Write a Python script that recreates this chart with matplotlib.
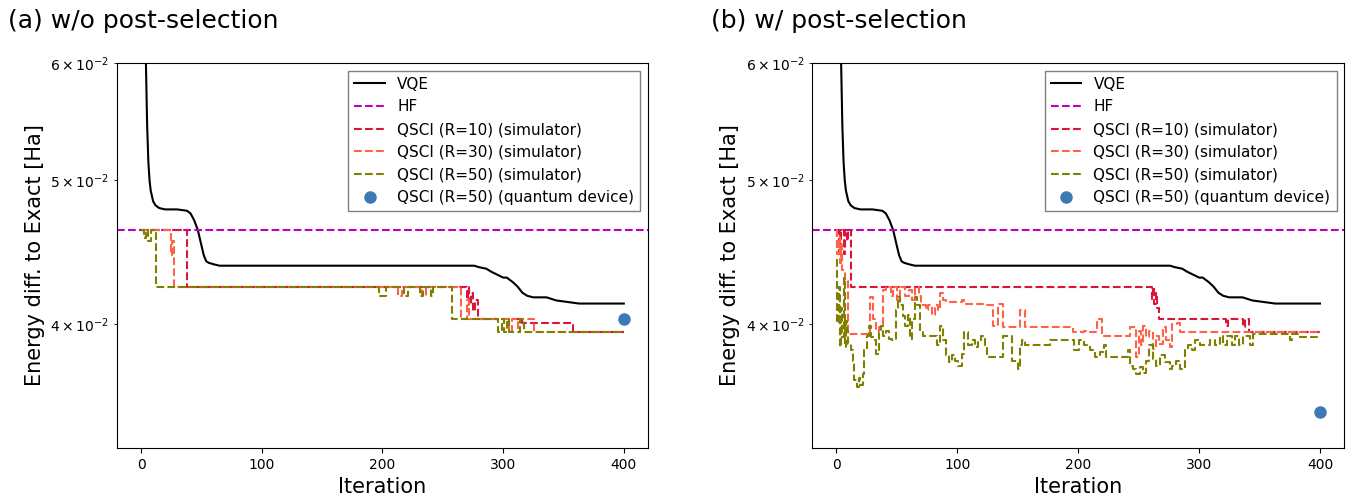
import matplotlib
matplotlib.use("Agg")
from matplotlib import pyplot as plt

# VQE energy difference (shared by both panels)
vqe_iter = [0, 1, 2, 3, 4, 5, 6, 7, 8, 10, 12, 15, 20, 30, 38, 41, 44, 47, 50, 52, 54, 56, 60, 65,
            80, 150, 250, 276, 280, 286, 290, 295, 300, 303, 308, 312, 316, 320, 325, 336, 344, 363, 380, 400]
vqe_val = [0.12, 0.09, 0.075, 0.065, 0.060, 0.0545, 0.0515, 0.0500, 0.0492, 0.0484, 0.0481, 0.0479,
           0.0478, 0.0478, 0.0477, 0.0475, 0.0470, 0.0463, 0.0452, 0.0445, 0.0441, 0.0440, 0.0439, 0.0438,
           0.0438, 0.0438, 0.0438, 0.0438, 0.0437, 0.0436, 0.0434, 0.0432, 0.0430, 0.0430, 0.0427, 0.0424,
           0.0420, 0.0418, 0.0417, 0.0417, 0.0415, 0.0413, 0.0413, 0.0413]

hf_val = 0.0463

# (a) w/o post-selection
a_r10_iter = [0, 38, 270, 271, 272, 273, 275, 277, 279, 316, 358, 400]
a_r10_val = [0.0463, 0.0424, 0.0416, 0.0424, 0.0412, 0.0420, 0.0408, 0.0415, 0.0403, 0.0401, 0.0395, 0.0395]

a_r30_iter = [0, 25, 26, 27, 213, 216, 233, 236, 265, 270, 272, 305, 307, 312, 314, 326, 400]
a_r30_val = [0.0463, 0.0445, 0.0455, 0.0424, 0.0418, 0.0424, 0.0418, 0.0424, 0.0403, 0.0415, 0.0403,
             0.0395, 0.0403, 0.0395, 0.0403, 0.0395, 0.0395]

a_r50_iter = [0, 2, 4, 6, 8, 12, 197, 203, 218, 221, 231, 234, 240, 242, 258, 296, 299, 301, 303, 305,
              314, 317, 400]
a_r50_val = [0.0463, 0.0457, 0.0463, 0.0455, 0.0463, 0.0424, 0.0418, 0.0424, 0.0418, 0.0424, 0.0418,
             0.0424, 0.0418, 0.0424, 0.0403, 0.0395, 0.0403, 0.0395, 0.0403, 0.0395, 0.0403, 0.0395, 0.0395]

a_device = 0.0403

# (b) w/ post-selection
b_r10_iter = [0, 1, 2, 3, 4, 6, 7, 9, 10, 12, 261, 262, 263, 264, 265, 267, 322, 324, 336, 338, 341, 400]
b_r10_val = [0.0463, 0.0447, 0.0463, 0.0450, 0.0463, 0.0446, 0.0463, 0.0455, 0.0463, 0.0424, 0.0416,
             0.0424, 0.0413, 0.0420, 0.0410, 0.0403, 0.0399, 0.0403, 0.0398, 0.0403, 0.0395, 0.0395]

b_r30_iter = [0, 1, 2, 3, 4, 5, 7, 10, 28, 30, 33, 35, 39, 41, 45, 47, 50, 53, 57, 60, 63, 65, 68, 70,
              74, 76, 79, 82, 84, 86, 88, 91, 104, 106, 121, 130, 134, 138, 152, 156, 196, 205, 210,
              216, 220, 243, 248, 250, 252, 254, 256, 259, 262, 264, 267, 270, 273, 276, 278, 282, 284, 400]
b_r30_val = [0.0463, 0.0446, 0.0458, 0.0440, 0.0452, 0.0435, 0.0428, 0.0394, 0.0417, 0.0403, 0.0396,
             0.0398, 0.0422, 0.0424, 0.0418, 0.0424, 0.0415, 0.0424, 0.0418, 0.0422, 0.0415, 0.0424,
             0.0418, 0.0412, 0.0409, 0.0412, 0.0406, 0.0412, 0.0409, 0.0420, 0.0415, 0.0414, 0.0415,
             0.0413, 0.0412, 0.0399, 0.0413, 0.0398, 0.0409, 0.0398, 0.0395, 0.0396, 0.0395, 0.0403,
             0.0393, 0.0398, 0.0380, 0.0396, 0.0387, 0.0399, 0.0392, 0.0396, 0.0385, 0.0393, 0.0388,
             0.0398, 0.0390, 0.0386, 0.0400, 0.0401, 0.0395, 0.0395]

b_r50_iter = [0, 1, 2, 3, 4, 5, 6, 7, 8, 9, 10, 12, 14, 15, 17, 19, 20, 22, 23, 25, 27, 29, 31, 33, 35,
              37, 39, 41, 44, 46, 49, 51, 53, 55, 57, 59, 61, 63, 65, 67, 69, 72, 83, 86, 88, 91, 93,
              96, 98, 101, 104, 106, 109, 112, 115, 117, 120, 123, 125, 131, 138, 142, 145, 148, 150,
              152, 154, 156, 177, 197, 201, 205, 210, 214, 218, 221, 223, 241, 243, 245, 248, 251, 254,
              256, 259, 262, 264, 268, 272, 276, 278, 281, 284, 288, 291, 294, 297, 301, 305, 309, 313,
              317, 320, 323, 327, 330, 333, 336, 342, 345, 375, 377, 383, 400]
b_r50_val = [0.0442, 0.0401, 0.0424, 0.0386, 0.0410, 0.0392, 0.0430, 0.0386, 0.0402, 0.0396, 0.0388,
             0.0384, 0.0378, 0.0367, 0.0363, 0.0368, 0.0364, 0.0370, 0.0384, 0.0393, 0.0399, 0.0392,
             0.0390, 0.0382, 0.0395, 0.0399, 0.0393, 0.0396, 0.0391, 0.0390, 0.0409, 0.0417, 0.0412,
             0.0405, 0.0399, 0.0406, 0.0391, 0.0403, 0.0417, 0.0412, 0.0396, 0.0393, 0.0387, 0.0399,
             0.0390, 0.0381, 0.0377, 0.0381, 0.0378, 0.0375, 0.0382, 0.0395, 0.0387, 0.0390, 0.0386,
             0.0390, 0.0393, 0.0387, 0.0380, 0.0380, 0.0393, 0.0393, 0.0378, 0.0378, 0.0373, 0.0387,
             0.0390, 0.0387, 0.0390, 0.0384, 0.0390, 0.0387, 0.0384, 0.0380, 0.0383, 0.0387, 0.0380,
             0.0384, 0.0375, 0.0373, 0.0370, 0.0374, 0.0371, 0.0378, 0.0387, 0.0379, 0.0375, 0.0381,
             0.0377, 0.0373, 0.0375, 0.0378, 0.0373, 0.0384, 0.0387, 0.0384, 0.0390, 0.0387, 0.0387,
             0.0390, 0.0387, 0.0393, 0.0387, 0.0393, 0.0387, 0.0393, 0.0387, 0.0393, 0.0387, 0.0394,
             0.0390, 0.0394, 0.0392, 0.0392]

b_device = 0.0349
device_iter = 400


def draw_panel(ax, r10, r30, r50, device):
    ax.plot(vqe_iter, vqe_val, color="black", linewidth=1.5, label="VQE")
    ax.axhline(hf_val, color="m", linestyle="--", linewidth=1.5, label="HF")
    ax.plot(r10[0], r10[1], color="crimson", linestyle="--", linewidth=1.5,
            drawstyle="steps-post", label="QSCI (R=10) (simulator)")
    ax.plot(r30[0], r30[1], color="tomato", linestyle="--", linewidth=1.5,
            drawstyle="steps-post", label="QSCI (R=30) (simulator)")
    ax.plot(r50[0], r50[1], color="olive", linestyle="--", linewidth=1.5,
            drawstyle="steps-post", label="QSCI (R=50) (simulator)")
    ax.plot([device_iter], [device], linestyle="none", marker="o", markersize=8,
            color="#3d7ab5", label="QSCI (R=50) (quantum device)")

    ax.set_yscale("log")
    ax.set_ylim(0.033, 0.06)
    ax.set_xlim(-20, 420)
    ax.set_xticks([0, 100, 200, 300, 400])
    ax.tick_params(labelsize=10)
    ax.set_xlabel("Iteration", fontsize=15)
    ax.set_ylabel("Energy diff. to Exact [Ha]", fontsize=15)
    ax.legend(loc="upper right", fontsize=11, fancybox=False, edgecolor="0.5", framealpha=1)


fig = plt.figure(figsize=(13.49, 5.04), dpi=100)
ax_a = fig.add_axes([0.0867, 0.111, 0.3936, 0.764])
ax_b = fig.add_axes([0.6020, 0.111, 0.3944, 0.764])

draw_panel(ax_a, (a_r10_iter, a_r10_val), (a_r30_iter, a_r30_val), (a_r50_iter, a_r50_val), a_device)
draw_panel(ax_b, (b_r10_iter, b_r10_val), (b_r30_iter, b_r30_val), (b_r50_iter, b_r50_val), b_device)

fig.text(0.006, 0.945, "(a) w/o post-selection", fontsize=18, va="baseline")
fig.text(0.527, 0.945, "(b) w/ post-selection", fontsize=18, va="baseline")

plt.savefig("out.png", dpi=100)
